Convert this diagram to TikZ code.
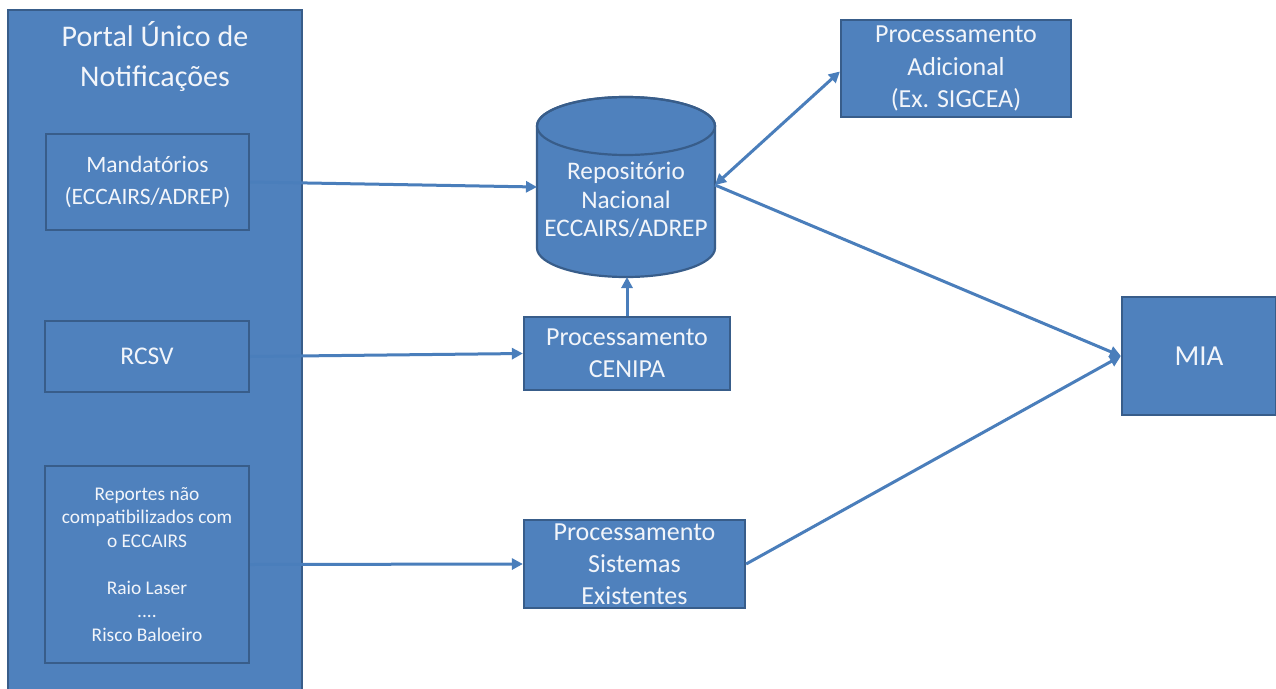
\documentclass[tikz,border=0pt]{standalone}
\usepackage{fontspec}
\setmainfont{Carlito}
\usetikzlibrary{arrows.meta}
\definecolor{boxfill}{HTML}{4F81BD}
\definecolor{boxline}{HTML}{385D8A}
\definecolor{arrowcol}{HTML}{4A7EBB}
\definecolor{txt}{HTML}{F2F5FA}
\tikzset{
  bluebox/.style={draw=boxline, fill=boxfill, line width=2.2pt, text=txt, align=center, inner sep=0pt},
  conn/.style={draw=arrowcol, line width=3pt, -{Triangle[length=11pt,width=11pt]}},
  dconn/.style={draw=arrowcol, line width=3pt, {Triangle[length=11pt,width=11pt]}-{Triangle[length=11pt,width=11pt]}}
}
\begin{document}
\begin{tikzpicture}[x=1pt,y=-1pt]
\useasboundingbox (0,0) rectangle (1276,688);
\clip (0,0) rectangle (1276,688);
\fill[white] (0,0) rectangle (1276,688);

% Portal box
\node[bluebox, minimum width=294pt, minimum height=700pt] (portal) at (155,360) {};
\node[text=txt, align=center, font=\fontsize{30}{40}\selectfont] (ptitle) at (155,56) {Portal Único de\\Notificações};

\node[bluebox, minimum width=203pt, minimum height=96pt, font=\fontsize{23.5}{32}\selectfont] (mand) at (147.5,182) {Mandatórios\\(ECCAIRS/ADREP)};
\node[bluebox, minimum width=204pt, minimum height=71pt, font=\fontsize{25.5}{30}\selectfont] (rcsv) at (147,356.5) {RCSV};
\node[bluebox, minimum width=204pt, minimum height=197pt, font=\fontsize{19.4}{23.5}\selectfont] (rep) at (147,564.5) {Reportes não\\compatibilizados com\\o ECCAIRS\\[23.5pt]Raio Laser\\....\\Risco Baloeiro};

% Cylinder
\fill[boxfill, draw=boxline, line width=2.2pt] (537,126) -- (537,248) arc[start angle=180, end angle=360, x radius=89, y radius=-29] -- (715,126) arc[start angle=0, end angle=180, x radius=89, y radius=-29] -- cycle;
\draw[boxline, line width=2.2pt] (626,126) ellipse[x radius=89, y radius=29];
\node[text=txt, align=center, font=\fontsize{25.3}{28.5}\selectfont] (repo) at (626,200) {Repositório\\Nacional\\ECCAIRS/ADREP};
\coordinate (repoW) at (537,187);
\coordinate (repoE) at (715,185);
\coordinate (repoS) at (627,277);

\node[bluebox, minimum width=230pt, minimum height=97pt, font=\fontsize{26}{32.5}\selectfont] (adic) at (956,68.5) {Processamento\\Adicional\\(Ex. SIGCEA)};
\node[bluebox, minimum width=206pt, minimum height=73pt, font=\fontsize{26}{32}\selectfont] (cenipa) at (627,353.5) {Processamento\\CENIPA};
\node[bluebox, minimum width=221pt, minimum height=88pt, font=\fontsize{26}{32}\selectfont] (sis) at (634.5,564) {Processamento\\Sistemas\\Existentes};
\node[bluebox, minimum width=154pt, minimum height=118pt, font=\fontsize{29}{34}\selectfont] (mia) at (1199,356) {MIA};

% Connectors
\draw[conn] (mand.east) -- (repoW);
\draw[conn] (rcsv.east) -- (cenipa.west);
\draw[conn] (rep.east) -- (sis.west);
\draw[conn] (cenipa.north) -- (repoS);
\draw[dconn] (repoE) -- ([yshift=-3pt]adic.west);
\draw[conn] (repoE) -- (mia.west);
\draw[conn] (sis.east) -- (mia.west);
\end{tikzpicture}
\end{document}
